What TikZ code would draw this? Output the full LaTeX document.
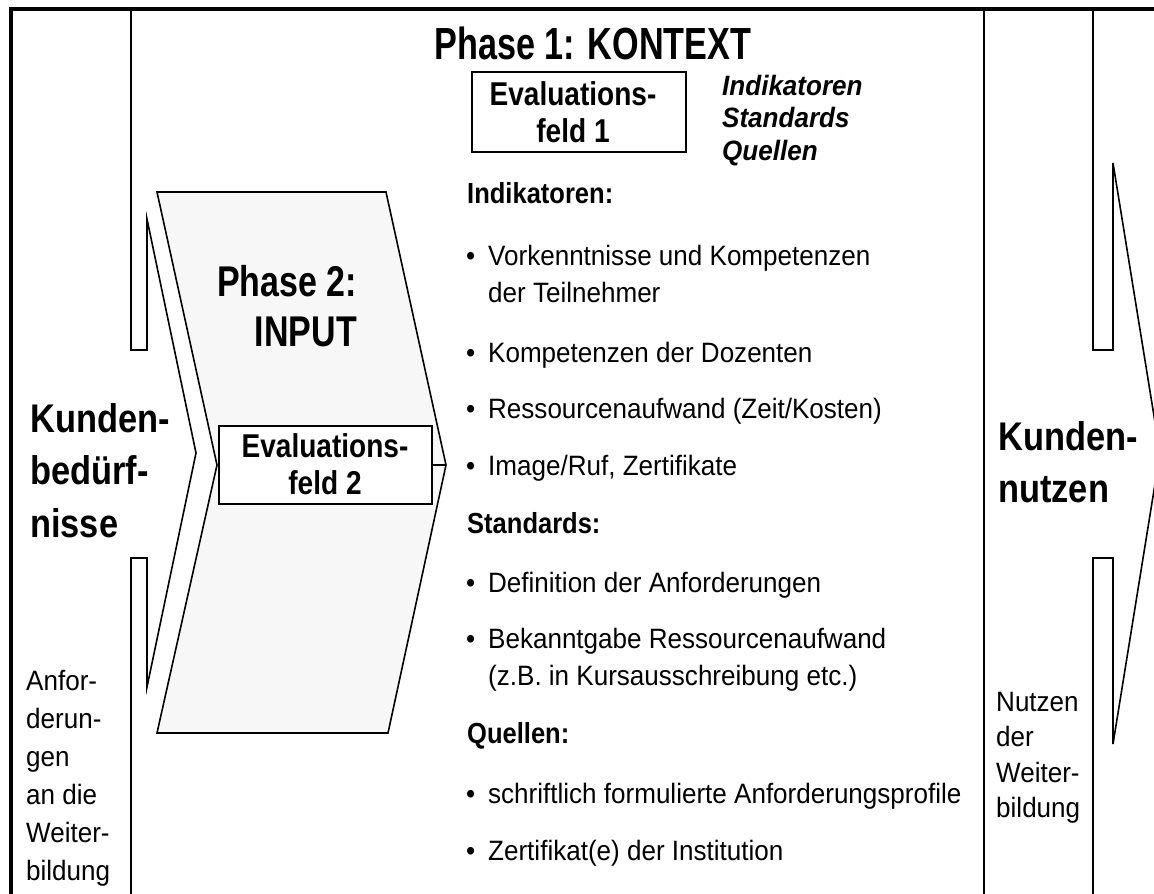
\documentclass[tikz,border=0pt]{standalone}
\usepackage{fontspec}
\setmainfont{Liberation Sans}[FakeStretch=0.93]
% narrowed faces for the bold headings
\newfontfamily\titlesans{Liberation Sans}[FakeStretch=0.76]
\newfontfamily\phasesans{Liberation Sans}[FakeStretch=0.79]
\newfontfamily\condsans{Liberation Sans}[FakeStretch=0.86]
\newfontfamily\fieldsans{Liberation Sans}[FakeStretch=0.85]
\newfontfamily\headsans{Liberation Sans}[FakeStretch=0.88]
\definecolor{chevgray}{RGB}{247,247,247}
% stacked lines with the first baseline as the node's base
\newcommand\stackl[1]{\begin{tabular}[t]{@{}l@{}}#1\end{tabular}}
\newcommand\stackc[1]{\begin{tabular}[t]{@{}c@{}}#1\end{tabular}}
\newcommand\stackr[1]{\begin{tabular}[t]{@{}r@{}}#1\end{tabular}}
\newcommand\bul{\makebox[22pt][l]{•}}
\begin{document}
\begin{tikzpicture}[x=1pt,y=-1pt,
  outline/.style={line width=1.6pt, line join=miter},
  frame/.style={line width=4.5pt},
  evbox/.style={draw, line width=2.2pt, fill=white, inner sep=0pt},
  bigtext/.style={font=\condsans\bfseries\fontsize{40}{#1}\selectfont, inner sep=0pt, anchor=base west},
  bigtext/.default=52.5,
  phasetext/.style={font=\phasesans\bfseries\fontsize{43}{50}\selectfont, inner sep=0pt},
  titletext/.style={font=\titlesans\bfseries\fontsize{45}{55}\selectfont, inner sep=0pt},
  body/.style={font=\fontsize{28}{#1}\selectfont, inner sep=0pt, anchor=base west},
  body/.default=37,
  head/.style={font=\headsans\bfseries\fontsize{29}{33}\selectfont, inner sep=0pt, anchor=base west},
  evtext/.style={font=\fieldsans\bfseries\fontsize{33}{37.5}\selectfont, inner sep=0pt, anchor=base},
  keys/.style={font=\bfseries\itshape\fontsize{28}{32.5}\selectfont, inner sep=0pt, anchor=base west},
]
\useasboundingbox (0,0) rectangle (1154,894);
\clip (0,0) rectangle (1154,894);

% outer frame (top and left edges)
\draw[frame] (11,900) -- (11,9) -- (1160,9);

% left block arrow: customer needs
\draw[outline] (131,9) -- (131,350) -- (147,350) -- (147,219) -- (196,453)
  -- (147,687) -- (147,558) -- (131,558) -- (131,900);

% column divider and right block arrow: customer benefit
\draw[outline] (984,9) -- (984,900);
\draw[outline] (1093,9) -- (1093,350) -- (1113,350) -- (1113,163) -- (1160,453)
  -- (1113,744) -- (1113,558) -- (1093,558) -- (1093,900);

% phase 2 chevron
\draw[outline, fill=chevgray] (157,192) -- (386,192) -- (446,465) -- (388,733)
  -- (157,733) -- (217,465) -- cycle;
\coordinate (p2tip) at (446,465);

% evaluation fields
\node[evbox, minimum width=214pt, minimum height=80pt] (ev1) at (579,112) {};
\node[evtext] (ev1label) at (573,105) {\stackc{Evaluations-\\feld 1}};
\node[evbox, minimum width=213pt, minimum height=78pt] (ev2) at (325.5,465) {};
\node[evtext] (ev2label) at (325,457) {\stackc{Evaluations-\\feld 2}};
\draw[outline] (ev2.east) -- (p2tip);

% headings
\node[titletext, anchor=base] (phase1) at (593,59) {Phase 1: KONTEXT};
\node[phasetext, anchor=base east] (phase2) at (357,296) {\stackr{Phase 2:\\INPUT}};
\node[bigtext] (needs) at (30,432) {\stackl{Kunden-\\bedürf-\\nisse}};
\node[bigtext=52] (benefit) at (998,450) {\stackl{Kunden-\\nutzen}};

% side notes
\node[body=38] (needsnote) at (26,690) {\stackl{Anfor-\\derun-\\gen\\an die\\Weiter-\\bildung}};
\node[body=35.5] (benefitnote) at (996,711) {\stackl{Nutzen\\der\\Weiter-\\bildung}};

% key words beside field 1
\node[keys] (keys) at (722,95) {\stackl{Indikatoren\\Standards\\Quellen}};

% indicators
\node[head] (hind) at (467,203) {Indikatoren:};
\node[body] (i1) at (466,265) {\stackl{\bul Vorkenntnisse und Kompetenzen\\\hspace{22pt}der Teilnehmer}};
\node[body] (i2) at (466,362) {\bul Kompetenzen der Dozenten};
\node[body] (i3) at (466,418) {\bul Ressourcenaufwand (Zeit/Kosten)};
\node[body] (i4) at (466,475) {\bul Image/Ruf, Zertifikate};

% standards
\node[head] (hstd) at (467,533) {Standards:};
\node[body] (s1) at (466,592) {\bul Definition der Anforderungen};
\node[body] (s2) at (466,648) {\stackl{\bul Bekanntgabe Ressourcenaufwand\\\hspace{22pt}(z.B. in Kursausschreibung etc.)}};

% sources
\node[head] (hsrc) at (467,743) {Quellen:};
\node[body] (q1) at (466,803) {\bul schriftlich formulierte Anforderungsprofile};
\node[body] (q2) at (466,860) {\bul Zertifikat(e) der Institution};
\end{tikzpicture}
\end{document}
